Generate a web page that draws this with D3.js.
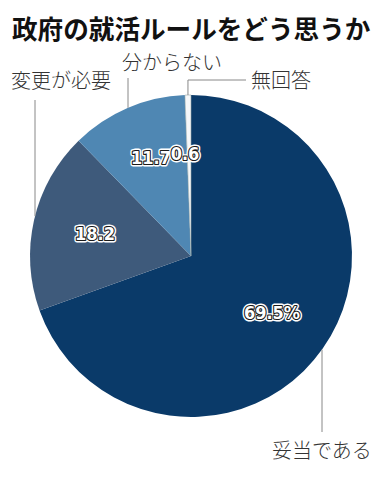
<!DOCTYPE html>
<html><head><meta charset="utf-8">
<script src="https://cdn.jsdelivr.net/npm/d3@7"></script>
<style>body{margin:0;background:#fff;} svg{display:block;}</style>
</head><body>
<svg id="c" width="383" height="486"></svg>
<script>
const title = "政府の就活ルールをどう思うか";
const categories = ["妥当である", "変更が必要", "分からない", "無回答"];
const values = [69.5, 18.2, 11.7, 0.6];
const valueLabels = ["69.5%", "18.2", "11.7", "0.6"];
const colors = ["#0a3a69", "#3e5a7b", "#4f87b3", "#f5f7f9"];

const svg = d3.select("#c");
const cx = 191, cy = 256, r = 161;

svg.append("text").attr("x", 12).attr("y", 39)
  .attr("font-family", "'Noto Sans CJK JP', sans-serif")
  .attr("font-weight", 700).attr("font-size", 25.6).attr("fill", "#111")
  .text(title);

const pie = d3.pie().sort(null).value(d => d)(values);
const arc = d3.arc().innerRadius(0).outerRadius(r);
const g = svg.append("g").attr("transform", `translate(${cx},${cy})`);
g.selectAll("path").data(pie).join("path")
  .attr("d", arc)
  .attr("fill", (d, i) => colors[i])
  .attr("stroke", (d, i) => i === 3 ? "#9aa" : "none")
  .attr("stroke-width", 0.6);

const pt = (ang, rad) => [cx + rad * Math.sin(ang), cy - rad * Math.cos(ang)];
const lines = svg.append("g").attr("stroke", "#888").attr("fill", "none").attr("stroke-width", 1);
{
  const x = 322; const y0 = cy + Math.sqrt(r*r - (x-cx)*(x-cx));
  lines.append("path").attr("d", `M${x},${y0}V432`);
}
{
  const x = 35; const y0 = cy - Math.sqrt(r*r - (x-cx)*(x-cx));
  lines.append("path").attr("d", `M${x},100V${y0}`);
}
{
  const x = 128; const y0 = cy - Math.sqrt(r*r - (x-cx)*(x-cx));
  lines.append("path").attr("d", `M${x},78V${y0}`);
}
{
  const mid = (pie[3].startAngle + pie[3].endAngle) / 2;
  const p = pt(mid, r);
  lines.append("path").attr("d", `M${p[0]},${p[1]}V80H246`);
}

const lab = svg.append("g").attr("font-family", "'Noto Sans CJK JP', sans-serif")
  .attr("font-size", 20).attr("font-weight", 300).attr("fill", "#333");
lab.append("text").attr("x", 272).attr("y", 458).text(categories[0]);
lab.append("text").attr("x", 11).attr("y", 88).text(categories[1]);
lab.append("text").attr("x", 122).attr("y", 70).text(categories[2]);
lab.append("text").attr("x", 251).attr("y", 88).text(categories[3]);

const vpos = [[272, 312], [95, 233], [151, 157], [185, 153]];
const vg = svg.append("g").attr("font-family", "'DejaVu Sans Condensed', 'DejaVu Sans', sans-serif")
  .attr("font-weight", 700).attr("font-size", 18).attr("text-anchor", "middle")
  .attr("dominant-baseline", "central");
values.forEach((v, i) => {
  const [x, y] = vpos[i];
  const t = valueLabels[i];
  vg.append("text").attr("x", x).attr("y", y).text(t)
    .attr("fill", "#fff").attr("stroke", "#fff").attr("stroke-width", 5).attr("stroke-linejoin", "round");
  vg.append("text").attr("x", x).attr("y", y).text(t)
    .attr("fill", "#fff").attr("stroke", "#1a1a1a").attr("stroke-width", 2.2).attr("stroke-linejoin", "round");
  vg.append("text").attr("x", x).attr("y", y).text(t).attr("fill", "#fff");
});
</script>
</body></html>
